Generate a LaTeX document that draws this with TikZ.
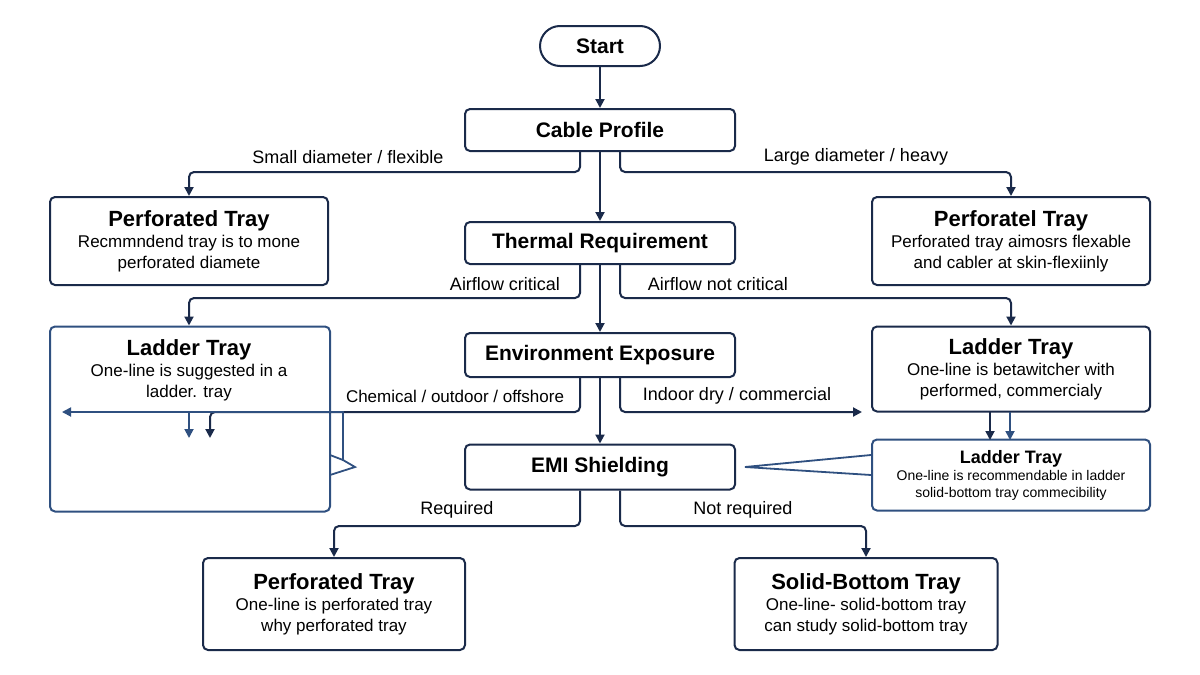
\documentclass[tikz,border=0pt]{standalone}
\usepackage{fontspec}
\setmainfont{Liberation Sans}
\usepackage{tikz}
\usetikzlibrary{positioning, arrows.meta}
\definecolor{navy}{HTML}{1A2A4A}
\definecolor{steel}{HTML}{2F5080}
\begin{document}
\begin{tikzpicture}[x=1pt, y=-1pt, line width=2pt, draw=navy,
  decision/.style={draw=navy, rounded corners=5pt, fill=white, text=black, minimum width=270pt, minimum height=42pt, font=\fontsize{21}{24}\selectfont\bfseries},
  tray/.style={draw=navy, rounded corners=5pt, fill=white, text=black, minimum width=278pt, align=center, font=\fontsize{17}{21}\selectfont},
  lbl/.style={text=black, font=\fontsize{18}{21}\selectfont},
  arr/.style={-{Triangle[length=9pt, width=9pt]}, navy}]

  \useasboundingbox (0,0) rectangle (1200,675);

  % Decision steps
  \node[decision, minimum width=120pt, minimum height=40pt, rounded corners=20pt] (start) at (600,46) {Start};
  \node[decision] (cable) at (600,130) {Cable Profile};
  \node[decision] (therm) at (600,243) {Thermal Requirement};
  \node[decision, minimum height=44pt] (env) at (600,355) {Environment Exposure};
  \node[decision, minimum height=45pt] (emi) at (600,467) {EMI Shielding};

  % Tray outcomes
  \node[tray, minimum height=88pt] (perfL) at (189,241) {{\fontsize{22}{26}\selectfont\bfseries Perforated Tray}\\Recmmndend tray is to mone\\perforated diamete};
  \node[tray, minimum height=88pt] (perfR) at (1011,241) {{\fontsize{22}{26}\selectfont\bfseries Perforatel Tray}\\Perforated tray aimosrs flexable\\and cabler at skin-flexiinly};
  \node[tray, draw=steel, minimum width=280pt, minimum height=185pt] (ladL) at (190,419) {};
  \node[align=center, font=\fontsize{17}{21}\selectfont] (ladLt) at (189,370) {{\fontsize{22}{26}\selectfont\bfseries Ladder Tray}\\One-line is suggested in a\\ladder. tray};
  \node[tray, minimum height=85pt] (ladR) at (1011,369) {{\fontsize{22}{26}\selectfont\bfseries Ladder Tray}\\One-line is betawitcher with\\performed, commercialy};
  \node[tray, draw=steel, minimum height=71pt, font=\fontsize{14}{17}\selectfont] (ladR2) at (1011,475) {{\fontsize{18}{21}\selectfont\bfseries Ladder Tray}\\One-line is recommendable in ladder\\solid-bottom tray commecibility};
  \node[tray, minimum width=262pt, minimum height=92pt] (perfB) at (334,604) {{\fontsize{22}{26}\selectfont\bfseries Perforated Tray}\\One-line is perforated tray\\why perforated tray};
  \node[tray, minimum width=263pt, minimum height=92pt] (solid) at (866,604) {{\fontsize{22}{26}\selectfont\bfseries Solid-Bottom Tray}\\One-line- solid-bottom tray\\can study solid-bottom tray};

  % Main spine
  \draw[arr] (start) -- (cable);
  \draw[arr] (cable) -- (therm);
  \draw[arr] (therm) -- (env);
  \draw[arr] (env) -- (emi);

  % Branches
  \draw[arr, rounded corners=5pt] ([xshift=-20pt]cable.south) |- (189,172) -- (perfL.north);
  \draw[arr, rounded corners=5pt] ([xshift=20pt]cable.south) |- (1011,172) -- (perfR.north);
  \draw[arr, rounded corners=5pt] ([xshift=-20pt]therm.south) |- (189,298) -- (ladL.north -| perfL);
  \draw[arr, rounded corners=5pt] ([xshift=20pt]therm.south) |- (1011,298) -- (ladR.north);
  \draw[arr, rounded corners=5pt] ([xshift=-20pt]env.south) |- (210,412) -- (210,438);
  \draw[arr, rounded corners=5pt] ([xshift=20pt]env.south) |- (862,412);
  \draw[arr, rounded corners=5pt] ([xshift=-20pt]emi.south) |- (334,526) -- (perfB.north);
  \draw[arr, rounded corners=5pt] ([xshift=20pt]emi.south) |- (866,526) -- (solid.north);

  % Odd leftovers in the ladder box
  \coordinate (ljoin) at (189,412);
  \draw[arr, steel, line width=1.8pt] (ljoin) -- (62,412);
  \draw[arr, steel, line width=1.8pt] (ljoin) -- (189,438);
  \draw[steel, line width=1.8pt] (ljoin) -- (343,412) -- (343,460) -- (355,467) -- (330,475);
  \draw[steel, line width=1.8pt] (343,460) -- (330,455);
  \draw[arr, line width=1.8pt] (990,412) -- (990,440);
  \draw[arr, steel, line width=1.8pt] (1010,412) -- (1010,440);
  \draw[steel, line width=1.8pt] (ladR2.west |- 0,455) -- (745,467) -- (ladR2.west |- 0,475);

  % Labels
  \node[lbl] at (348,157) {Small diameter / flexible};
  \node[lbl] at (856,157) {Large diameter / heavy};
  \node[lbl] at (505,284) {Airflow critical};
  \node[lbl] at (718,284) {Airflow not critical};
  \node[lbl, font=\fontsize{17}{20}\selectfont] at (455,396) {Chemical / outdoor / offshore};
  \node[lbl] at (737,396) {Indoor dry / commercial};
  \node[lbl] at (457,510) {Required};
  \node[lbl] at (743,510) {Not required};

\end{tikzpicture}
\end{document}
